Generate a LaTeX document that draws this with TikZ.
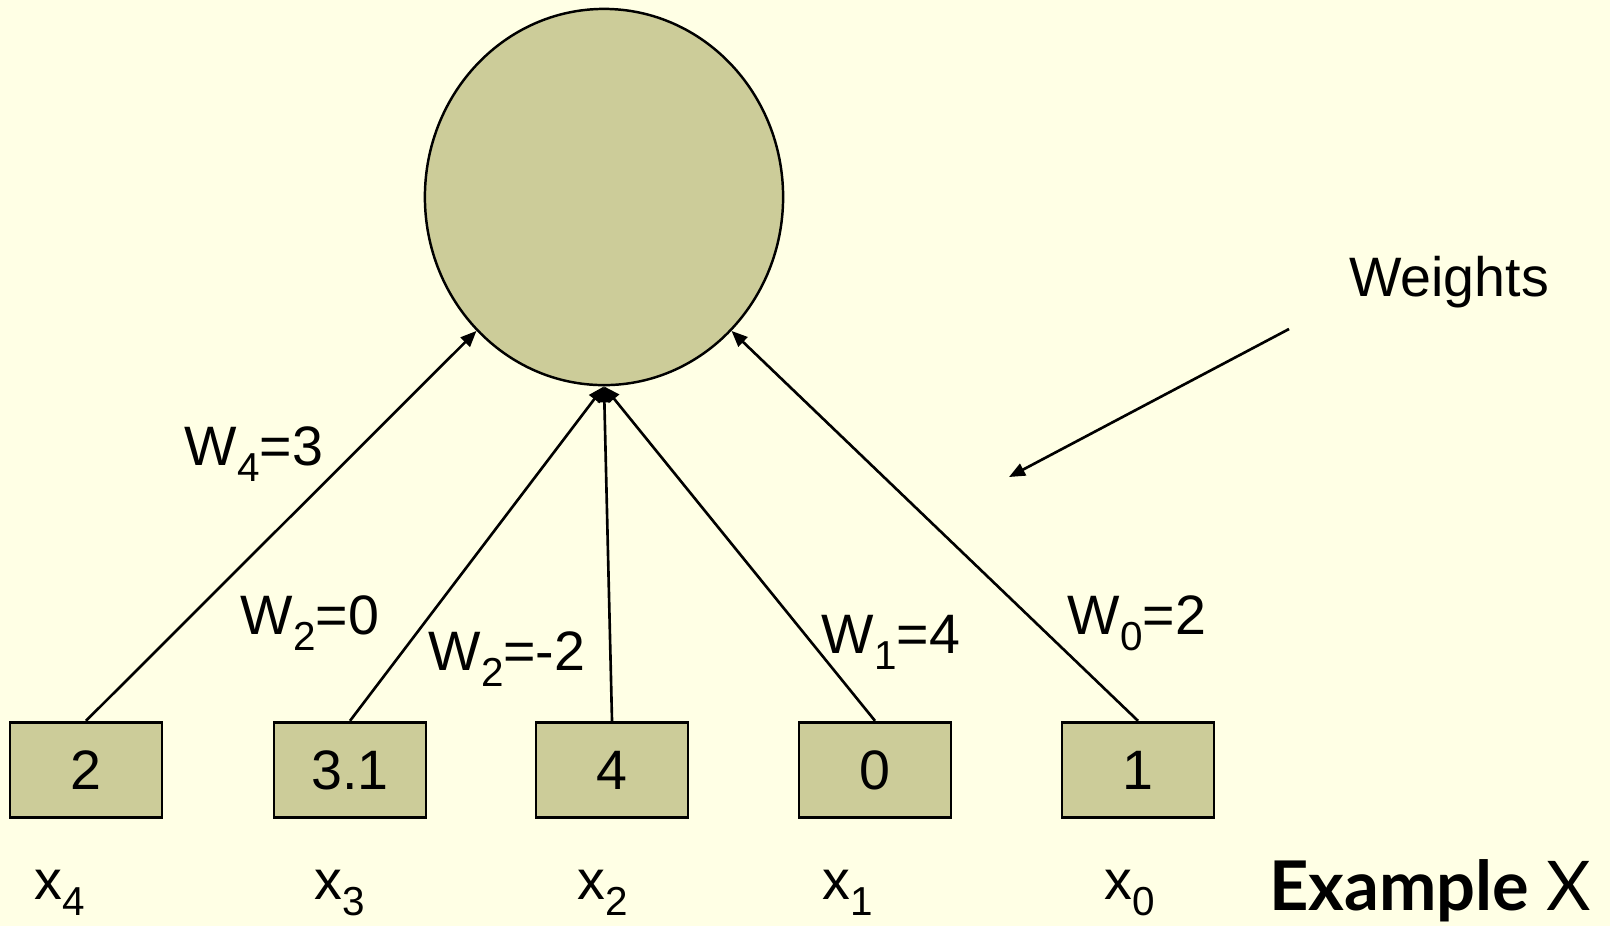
\documentclass[tikz,border=0pt]{standalone}
\usepackage{fontspec}
\setmainfont{Liberation Sans}
\newfontfamily\gillfont{Lato}
\usepackage{tikz}
\usetikzlibrary{arrows.meta,shapes.geometric}
\definecolor{slidebg}{RGB}{255,255,229}
\definecolor{unitfill}{RGB}{204,204,153}
\newcommand{\lowsub}[1]{\raisebox{-0.55ex}{\fontsize{11.5}{12}\selectfont #1}}

\begin{document}
\begin{tikzpicture}[x=0.01cm,y=-0.01cm,
  every node/.style={font=\fontsize{15.8}{18}\selectfont},
  inbox/.style={draw,fill=unitfill,line width=0.8pt,minimum width=1.52cm,minimum height=0.955cm,inner sep=0pt},
  wire/.style={line width=0.75pt,-{Triangle[length=0.16cm,width=0.13cm]}}]
  \fill[slidebg] (0,0) rectangle (1610,926);
  \useasboundingbox (0,0) rectangle (1610,926);
  \node[ellipse,draw,fill=unitfill,line width=0.7pt,minimum width=3.58cm,minimum height=3.76cm,inner sep=0pt] (neuron) at (604,197) {};
  \foreach \i/\x/\v in {4/86/2, 3/350/3.1, 2/612/4, 1/875/0, 0/1138/1} {
    \node[inbox] (in\i) at (\x,770) {\v};
  }
  \foreach \i/\x in {4/60, 3/340, 2/603, 1/848, 0/1130} {
    \node (lab\i) at (\x,893) {x\lowsub{\i}};
  }
  \draw[wire] (in4.north) -- (neuron.south west);
  \draw[wire] (in3.north) -- (neuron.south);
  \draw[wire] (in2.north) -- (neuron.south);
  \draw[wire] (in1.north) -- (neuron.south);
  \draw[wire] (in0.north) -- (neuron.south east);
  \node (w4) at (254,454) {W\lowsub{4}=3};
  \node (w3) at (310,623) {W\lowsub{2}=0};
  \node (w2) at (507,659) {W\lowsub{2}=-2};
  \node (w1) at (891,642) {W\lowsub{1}=4};
  \node (w0) at (1137,623) {W\lowsub{0}=2};
  % pointer to the weights
  \node (weights) at (1449,282) {Weights};
  \coordinate (ptrstart) at (1289,329);
  \coordinate (ptrend) at (1009,477);
  \draw[wire] (ptrstart) -- (ptrend);
  \node[anchor=east,inner sep=0pt,font=\gillfont\fontsize{19.5}{22}\selectfont] (title) at (1592,891) {\textbf{Example} X};
\end{tikzpicture}
\end{document}
